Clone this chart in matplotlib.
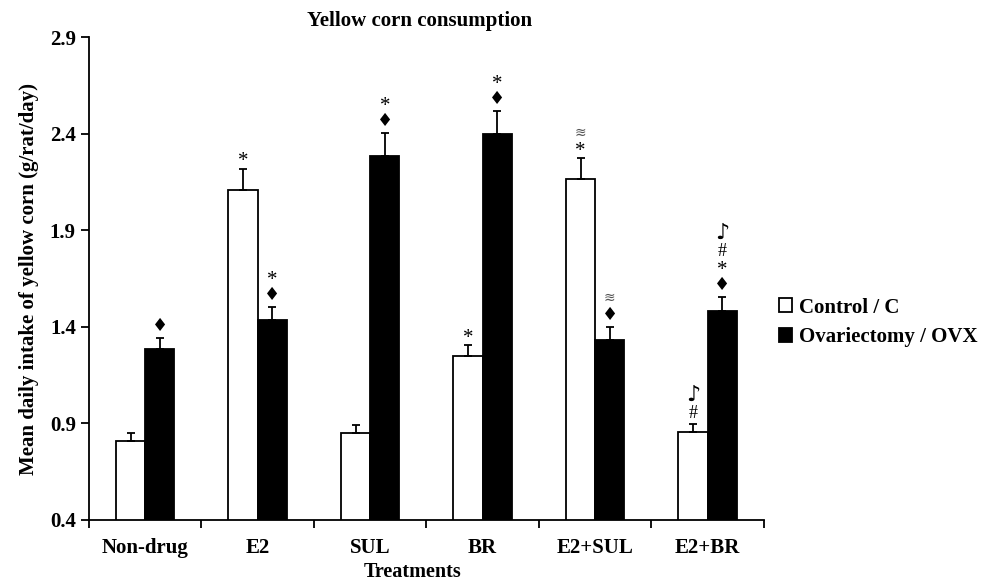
import matplotlib
matplotlib.use('Agg')
import matplotlib.pyplot as plt
from matplotlib.patches import Patch
import numpy as np

treatments = ['Non-drug', 'E2', 'SUL', 'BR', 'E2+SUL', 'E2+BR']
control = [0.81, 2.11, 0.85, 1.25, 2.165, 0.855]
control_err = [0.04, 0.11, 0.04, 0.057, 0.11, 0.04]
ovx = [1.285, 1.435, 2.285, 2.40, 1.332, 1.482]
ovx_err = [0.057, 0.07, 0.12, 0.12, 0.067, 0.072]

# significance marks, bottom to top
control_marks = [[], ['*'], [], ['*'], ['*', '≋'], ['#', '♪']]
ovx_marks = [['♦'], ['♦', '*'], ['♦', '*'], ['♦', '*'], ['♦', '≋'], ['♦', '*', '#', '♪']]

plt.rcParams['font.family'] = ['Liberation Serif', 'DejaVu Sans']
plt.rcParams['font.weight'] = 'bold'

fig = plt.figure(figsize=(9.81, 5.81), dpi=100)
ax = fig.add_axes([0.0907, 0.105, 0.688, 0.831])

x = np.arange(len(treatments))
w = 0.26
ax.bar(x - w / 2, control, w, color='white', edgecolor='black', linewidth=1.3,
       yerr=[np.zeros(len(control)), control_err], capsize=3,
       error_kw=dict(elinewidth=1.3, capthick=1.3), zorder=2)
ax.bar(x + w / 2, ovx, w, color='black', edgecolor='black', linewidth=1.3,
       yerr=[np.zeros(len(ovx)), ovx_err], capsize=3,
       error_kw=dict(elinewidth=1.3, capthick=1.3), zorder=2)

# font size, family, height step (points), extra y shift
styles = {'*': (15, 'Liberation Serif', 11, -4),
          '♦': (13, 'DejaVu Sans', 14, 0),
          '#': (13, 'Liberation Serif', 12, 0),
          '♪': (16, 'DejaVu Sans', 16, 0),
          '≋': (10, 'DejaVu Sans', 14, 0)}


def add_marks(xpos, tops, marks):
    for xi, top, ms in zip(xpos, tops, marks):
        off = 2
        for m in ms:
            size, fam, step, shift = styles[m]
            ax.annotate(m, (xi, top), xytext=(0, off + shift), textcoords='offset points',
                        ha='center', va='bottom', fontsize=size, family=[fam],
                        fontweight='normal', color='#555555' if m == '≋' else 'black')
            off += step


add_marks(x - w / 2, np.array(control) + np.array(control_err), control_marks)
add_marks(x + w / 2, np.array(ovx) + np.array(ovx_err), ovx_marks)

ax.set_xlim(-0.5, len(treatments) - 0.5)
ax.set_ylim(0.4, 2.9)
yt = np.arange(0.4, 2.91, 0.5)
ax.set_yticks(yt)
ax.set_yticklabels(['%.1f' % v for v in yt], fontsize=15, fontweight='bold')
ax.set_xticks(x)
ax.set_xticklabels(treatments, fontsize=15, fontweight='bold')
ax.set_xticks(np.arange(-0.5, len(treatments)), minor=True)
ax.tick_params(axis='x', which='major', length=0, pad=13)
ax.tick_params(axis='x', which='minor', length=6, width=1.3, direction='out')
ax.tick_params(axis='y', length=6, width=1.3, direction='out')
for s in ['top', 'right']:
    ax.spines[s].set_visible(False)
for s in ['left', 'bottom']:
    ax.spines[s].set_linewidth(1.3)

ax.set_xlabel('Treatments', fontsize=14.5, fontweight='bold', labelpad=3, x=0.48)
ax.set_ylabel('Mean daily intake of yellow corn (g/rat/day)', fontsize=15, fontweight='bold', labelpad=8)
ax.set_title('Yellow corn consumption', fontsize=15, fontweight='bold', pad=8, x=0.49)

handles = [Patch(facecolor='white', edgecolor='black', linewidth=1.3, label='Control / C'),
           Patch(facecolor='black', edgecolor='black', linewidth=1.3, label='Ovariectomy / OVX')]
fig.legend(handles=handles, loc='center left', bbox_to_anchor=(0.779, 0.445), frameon=False,
           prop={'family': 'Liberation Serif', 'weight': 'bold', 'size': 15},
           handlelength=0.65, handleheight=0.65, handletextpad=0.3, labelspacing=0.45,
           borderpad=0.2)

fig.savefig('out.png', dpi=100)
